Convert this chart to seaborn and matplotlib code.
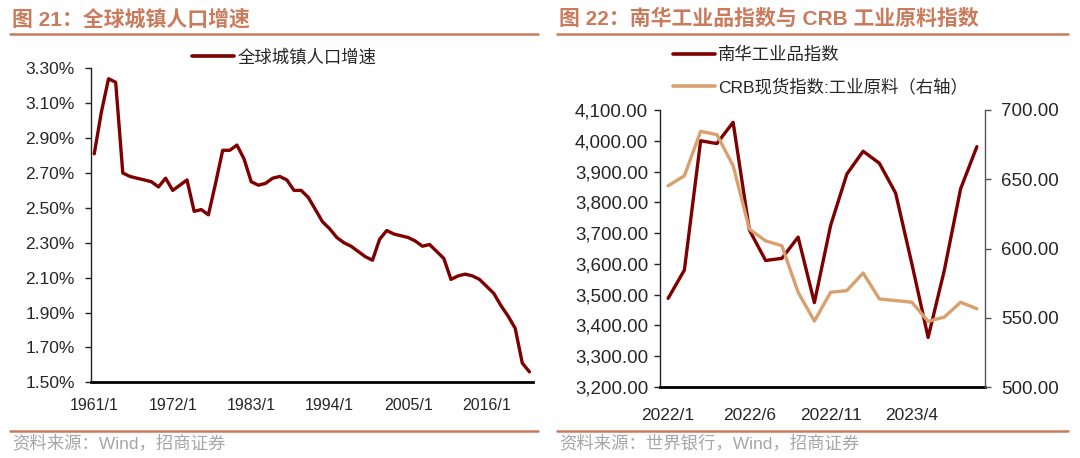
import numpy as np
import pandas as pd
import matplotlib.pyplot as plt
from matplotlib.lines import Line2D
import seaborn as sns

# 全球城镇人口增速 (%), 1961-2022
years = list(range(1961, 2023))
urban_growth = [2.81, 3.05, 3.24, 3.22, 2.70, 2.68, 2.67, 2.66, 2.65, 2.62,
                2.67, 2.60, 2.63, 2.66, 2.48, 2.49, 2.46, 2.64, 2.83, 2.83,
                2.86, 2.78, 2.65, 2.63, 2.64, 2.67, 2.68, 2.66, 2.60, 2.60,
                2.56, 2.49, 2.42, 2.38, 2.33, 2.30, 2.28, 2.25, 2.22, 2.20,
                2.32, 2.37, 2.35, 2.34, 2.33, 2.31, 2.28, 2.29, 2.25, 2.21,
                2.09, 2.11, 2.12, 2.11, 2.09, 2.05, 2.01, 1.94, 1.88, 1.81,
                1.61, 1.56]
year_ticks = ['1961/1', '1972/1', '1983/1', '1994/1', '2005/1', '2016/1']

# 南华工业品指数 vs CRB现货指数:工业原料, 2022/1-2023/8
months = ['2022/1', '2022/2', '2022/3', '2022/4', '2022/5', '2022/6', '2022/7',
          '2022/8', '2022/9', '2022/10', '2022/11', '2022/12', '2023/1', '2023/2',
          '2023/3', '2023/4', '2023/5', '2023/6', '2023/7', '2023/8']
nanhua = [3488, 3580, 4000, 3991, 4060, 3710, 3611, 3618, 3687, 3474,
          3725, 3892, 3966, 3927, 3830, 3600, 3361, 3580, 3844, 3981]
crb = [645.3, 652.5, 684.6, 682.2, 659.8, 614.0, 605.5, 602.0, 568.4, 547.6,
       568.4, 569.6, 582.3, 563.6, 562.4, 561.2, 547.4, 550.5, 561.2, 556.5]
month_ticks = ['2022/1', '2022/6', '2022/11', '2023/4']

dark_red = '#7f0000'
tan = '#d9a06e'
accent = '#c97b5c'
gray_txt = '#a6a6a6'

sns.set_style('ticks')
plt.rcParams['font.family'] = ['Liberation Sans', 'Noto Sans CJK SC']

W, H = 1080, 458
fig = plt.figure(figsize=(10.8, 4.58), dpi=100)


def box(x0, y0, x1, y1):
    return [x0 / W, 1 - y1 / H, (x1 - x0) / W, (y1 - y0) / H]


def header(x0, x1, title, source):
    fig.text(x0 + 2 / W, 1 - 19 / H, title, fontsize=15, fontweight='bold',
             color=accent, va='center', ha='left')
    fig.add_artist(Line2D([x0, x1], [1 - 34 / H] * 2, color=accent, lw=1.8))
    fig.add_artist(Line2D([x0, x1], [1 - 431 / H] * 2, color=accent, lw=1.8))
    fig.text(x0 + 2 / W, 1 - 443 / H, source, fontsize=12.5, color=gray_txt,
             va='center', ha='left')


# ---- left chart
df1 = pd.DataFrame({'idx': range(len(years)), 'val': urban_growth})
ax1 = fig.add_axes(box(90.7, 68.3, 533, 382.3))
sns.lineplot(data=df1, x='idx', y='val', ax=ax1, color=dark_red, lw=2.4)
ax1.set_xlim(-0.5, len(years) - 0.5)
ax1.set_ylim(1.5, 3.3)
ax1.set_yticks(np.arange(1.5, 3.31, 0.2))
ax1.set_yticklabels([f'{v:.2f}%' for v in np.arange(1.5, 3.31, 0.2)])
ax1.set_xticks([years.index(int(t.split('/')[0])) for t in year_ticks])
ax1.set_xticklabels(year_ticks)
ax1.set_xlabel('')
ax1.set_ylabel('')
ax1.spines['top'].set_visible(False)
ax1.spines['right'].set_visible(False)
ax1.spines['left'].set_color('#222222')
ax1.spines['left'].set_linewidth(1.0)
ax1.spines['bottom'].set_color('black')
ax1.spines['bottom'].set_linewidth(2.0)
ax1.tick_params(axis='y', length=4.5, width=1, pad=7, labelsize=12.5, color='#222222')
ax1.tick_params(axis='x', length=0, pad=11.5, labelsize=11.5)
ax1.legend([Line2D([], [], color=dark_red, lw=2.6)], ['全球城镇人口增速'],
           loc='center left', bbox_to_anchor=(192 / W, 1 - 57 / H),
           bbox_transform=fig.transFigure, frameon=False, fontsize=12.5,
           handlelength=2.4, handletextpad=0.2, borderpad=0, borderaxespad=0)

header(10 / W, 538 / W, '图 21：全球城镇人口增速', '资料来源：Wind，招商证券')

# ---- right chart
df2 = pd.DataFrame({'idx': range(len(months)), 'nanhua': nanhua, 'crb': crb})
ax2 = fig.add_axes(box(660, 110, 985, 387))
sns.lineplot(data=df2, x='idx', y='nanhua', ax=ax2, color=dark_red, lw=2.4)
ax3 = ax2.twinx()
sns.lineplot(data=df2, x='idx', y='crb', ax=ax3, color=tan, lw=2.4)
ax2.set_xlim(-0.5, len(months) - 0.5)
ax2.set_ylim(3200, 4100)
ax2.set_yticks(np.arange(3200, 4101, 100))
ax2.set_yticklabels([f'{v:,.2f}' for v in np.arange(3200, 4101, 100)])
ax3.set_ylim(500, 700)
ax3.set_yticks(np.arange(500, 701, 50))
ax3.set_yticklabels([f'{v:.2f}' for v in np.arange(500, 701, 50)])
ax2.set_xticks([months.index(t) for t in month_ticks])
ax2.set_xticklabels(month_ticks)
for a in (ax2, ax3):
    a.set_xlabel('')
    a.set_ylabel('')
    a.spines['top'].set_visible(False)
ax2.spines['right'].set_visible(False)
ax3.spines['left'].set_visible(False)
ax3.spines['bottom'].set_visible(False)
ax2.spines['left'].set_color('#222222')
ax2.spines['left'].set_linewidth(1.0)
ax2.spines['bottom'].set_color('black')
ax2.spines['bottom'].set_linewidth(2.0)
ax3.spines['right'].set_color('#555555')
ax3.spines['right'].set_linewidth(1.0)
ax2.tick_params(axis='y', length=4.5, width=1, pad=4, labelsize=13.5, color='#222222')
ax3.tick_params(axis='y', length=4.5, width=1, pad=7, labelsize=13.5, color='#555555')
ax2.tick_params(axis='x', length=0, pad=15, labelsize=12.5)
ax3.legend([Line2D([], [], color=dark_red, lw=2.6), Line2D([], [], color=tan, lw=2.6)],
           ['南华工业品指数', 'CRB现货指数:工业原料（右轴）'],
           loc='upper left', bbox_to_anchor=(673 / W, 1 - 47 / H),
           bbox_transform=fig.transFigure, frameon=False, fontsize=12.5,
           handlelength=2.4, handletextpad=0.2, labelspacing=0.85,
           borderpad=0, borderaxespad=0)

header(557 / W, 1068 / W, '图 22：南华工业品指数与 CRB 工业原料指数', '资料来源：世界银行，Wind，招商证券')

fig.savefig('out.png', dpi=100)
